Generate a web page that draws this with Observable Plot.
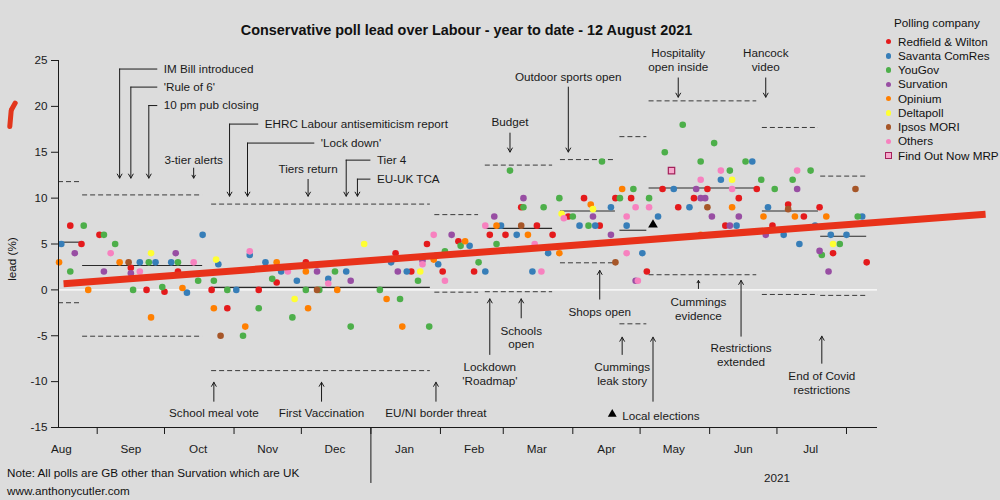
<!DOCTYPE html>
<html><head><meta charset="utf-8">
<script src="https://cdn.jsdelivr.net/npm/d3@7"></script>
<script src="https://cdn.jsdelivr.net/npm/@observablehq/plot@0.6"></script>
<style>
body{margin:0;background:#dcdcdc;}
#wrap{position:relative;width:1000px;height:500px;background:#dcdcdc;font-family:"Liberation Sans",Arial,sans-serif;color:#111;overflow:hidden}
#chart{position:absolute;left:0;top:0}
.t{position:absolute;white-space:nowrap;font-size:11.7px;line-height:14px}
</style></head><body>
<div id="wrap"><div id="chart"></div></div>
<script>
// ---------- data ----------
const companies = ["Redfield & Wilton","Savanta ComRes","YouGov","Survation","Opinium","Deltapoll","Ipsos MORI","Others","Find Out Now MRP"];
const colors = ["#e41a1c","#377eb8","#4daf4a","#984ea3","#ff7f00","#ffff33","#a65628","#f781bf","#f7a8cc"];

const redfieldWilton = [["2020-08-20",7],["2020-08-25",5],["2020-09-02",6],["2020-09-16",2.4],["2020-09-23",0],["2020-10-01",-0.2],["2020-10-07",2],["2020-10-22",0],["2020-10-29",-2],["2020-11-12",0],["2020-11-20",0.8],["2020-12-03",3],["2021-01-12",4],["2021-01-19",2],["2021-01-26",5],["2021-02-02",2],["2021-02-09",5.3],["2021-02-16",2],["2021-02-23",6],["2021-03-02",6],["2021-03-09",9],["2021-03-16",7],["2021-03-23",6],["2021-03-30",8],["2021-04-06",10],["2021-04-13",7],["2021-04-20",10],["2021-04-27",10],["2021-05-04",2],["2021-05-11",11],["2021-05-18",9],["2021-05-25",10],["2021-05-31",11],["2021-06-08",7],["2021-06-14",10],["2021-06-22",11],["2021-06-29",7],["2021-07-06",9.3],["2021-07-13",8],["2021-07-20",9],["2021-07-26",4],["2021-08-10",3]];
const savantaComRes = [["2020-08-16",5],["2020-09-20",3],["2020-09-27",3],["2020-10-04",3],["2020-10-11",-0.3],["2020-10-18",6],["2020-10-25",2.8],["2020-11-02",0],["2020-11-08",3.8],["2020-11-15",3],["2020-11-22",2],["2020-11-29",1],["2020-12-13",1.2],["2020-12-21",2],["2021-01-10",3],["2021-01-17",2],["2021-01-31",2.8],["2021-02-14",4.8],["2021-02-21",2],["2021-02-28",7],["2021-03-07",6],["2021-03-14",2],["2021-03-21",4],["2021-04-04",7],["2021-04-11",7],["2021-04-18",9],["2021-04-25",7],["2021-05-02",4],["2021-05-09",8],["2021-05-16",11],["2021-05-23",9],["2021-06-06",12],["2021-06-13",7],["2021-06-20",14],["2021-06-27",9],["2021-07-04",6],["2021-07-11",5],["2021-07-18",7],["2021-07-25",6],["2021-08-01",6],["2021-08-08",8]];
const youGov = [["2020-08-20",2],["2020-08-26",7],["2020-09-04",6],["2020-09-09",5],["2020-09-17",0],["2020-09-24",3],["2020-09-30",0.3],["2020-10-07",3],["2020-10-16",1],["2020-10-23",1],["2020-10-29",0],["2020-11-05",-5],["2020-11-12",-2],["2020-11-18",1.2],["2020-11-27",-3],["2020-12-03",0],["2020-12-09",0],["2020-12-16",2],["2020-12-23",-4],["2021-01-05",0],["2021-01-14",-1],["2021-01-22",1],["2021-01-27",-4],["2021-02-03",4.2],["2021-02-10",4.8],["2021-02-18",3],["2021-02-26",5],["2021-03-04",13],["2021-03-10",9],["2021-03-19",9],["2021-03-26",10],["2021-04-01",8],["2021-04-08",7],["2021-04-14",14],["2021-04-22",10],["2021-04-28",11],["2021-05-05",10],["2021-05-12",15],["2021-05-20",18],["2021-05-28",14],["2021-06-03",16],["2021-06-10",13],["2021-06-17",14],["2021-06-24",12],["2021-06-30",11],["2021-07-08",12],["2021-07-16",13],["2021-07-21",3.8],["2021-07-29",5],["2021-08-06",8]];
const survation = [["2020-08-22",4],["2020-09-04",2],["2020-09-16",1.8],["2020-10-06",4],["2020-12-08",2],["2020-12-23",1],["2021-01-13",2],["2021-01-24",3.2],["2021-02-06",6],["2021-02-25",8],["2021-03-10",10],["2021-04-10",8],["2021-04-18",6],["2021-04-29",1],["2021-05-26",11],["2021-05-28",10],["2021-05-30",10],["2021-06-02",8],["2021-06-10",7],["2021-06-14",8],["2021-06-26",6],["2021-07-10",11],["2021-07-20",4.25],["2021-07-24",2]];
const opinium = [["2020-08-15",3],["2020-08-28",0],["2020-09-11",3],["2020-09-25",-3],["2020-10-09",0.2],["2020-10-23",-2],["2020-11-06",-4],["2020-11-20",3],["2020-12-03",2],["2020-12-04",-2],["2020-12-17",0],["2021-01-08",-1],["2021-01-15",-4],["2021-01-29",3.3],["2021-02-12",5.3],["2021-02-26",7],["2021-03-12",6],["2021-03-26",4],["2021-04-09",9.3],["2021-04-23",11],["2021-05-28",6],["2021-06-11",9],["2021-06-25",8],["2021-07-09",8],["2021-07-23",8]];
const deltapoll = [["2020-09-25",4],["2020-10-24",3.3],["2020-11-28",-1],["2020-12-29",5],["2021-01-23",2],["2021-03-27",8.3],["2021-04-10",8.8],["2021-06-11",12],["2021-07-26",5]];
const ipsosMori = [["2020-09-15",3],["2020-10-26",-5],["2020-12-08",0],["2021-03-09",7],["2021-04-20",3],["2021-05-31",9],["2021-07-06",8.8],["2021-08-05",11]];
const others = [["2020-09-07",4],["2020-09-20",2],["2020-10-14",3],["2020-11-08",4.2],["2020-11-25",2],["2020-12-13",0.7],["2021-01-24",2.8],["2021-01-29",6],["2021-02-03",1],["2021-02-21",7],["2021-03-15",5],["2021-03-18",2],["2021-03-28",7.8],["2021-04-25",8],["2021-04-25",4],["2021-04-29",9],["2021-04-30",1],["2021-05-05",9],["2021-05-28",12],["2021-06-06",13],["2021-06-11",11],["2021-07-10",13]];
const findOutNowMRP = [["2021-05-15",13]];
const localElectionsPoint = [["2021-05-06T18:00",7.1]];
const trendLine = [["2020-08-17",0.68],["2021-10-02",8.25]];

const periodStart = ["2020-08-14T18:00","2020-08-25T12:00","2020-10-22","2021-01-29T12:00","2021-02-21","2021-03-26T12:00","2021-04-22","2021-05-05","2021-06-24T12:00","2021-07-20T12:00"];
const periodEnd   = ["2020-08-25T06:00","2020-10-18","2021-01-27T12:00","2021-02-18","2021-03-23","2021-04-20","2021-05-04","2021-06-22","2021-07-19T12:00","2021-08-10"];
const periodMean  = [5.2,2.65,0.27,4.0,6.7,8.6,6.5,11.1,8.6,5.85];
const periodUpper = [11.8,10.35,9.35,8.2,13.6,14.2,16.7,20.6,17.7,12.4];
const periodLower = [-1.4,-5.05,-8.8,-0.25,-0.2,2.95,-3.7,1.65,-0.5,-0.6];

const yTicks = [-15,-10,-5,0,5,10,15,20,25];
const monthTicks = ["2020-09-01","2020-10-01","2020-11-01","2020-12-01","2021-01-01","2021-02-01","2021-03-01","2021-04-01","2021-05-01","2021-06-01","2021-07-01","2021-08-01"];
const monthLabels = ["Aug","Sep","Oct","Nov","Dec","Jan","Feb","Mar","Apr","May","Jun","Jul"];
const monthLabelDates = ["2020-08-16","2020-09-16","2020-10-16","2020-11-16","2020-12-16","2021-01-16","2021-02-16","2021-03-16","2021-04-16","2021-05-16","2021-06-16","2021-07-16"];
const yearLabel = [["2021-07-01","2021"]];
const yearDivider = ["2021-01-01"];
const xDomain = ["2020-08-14T18:00","2021-08-14T19:40"];

// annotations: [label, arrow date, elbow date, text y, arrow tip y]
const elbowNotes = [
  ["IM Bill introduced","2020-09-11","2020-09-28",24.07,12.18],
  ["'Rule of 6'","2020-09-16","2020-09-28",22.1,12.18],
  ["10 pm pub closing","2020-09-24","2020-09-28",20.09,12.18],
  ["EHRC Labour antisemiticism report","2020-10-30","2020-11-12",18.07,10.21],
  ["'Lock down'","2020-11-07","2020-12-07",16.0,10.21],
  ["Tier 4","2020-12-21","2021-01-01",14.14,10.21],
  ["EU-UK TCA","2020-12-26","2021-01-01",12.07,10.21]
];
// [label, date, text y, arrow from, arrow to]
const downNotes = [
  ["3-tier alerts","2020-10-14",14.25,13.27,12.18],
  ["Tiers return","2020-12-04",13.27,12.04,10.21],
  ["Budget","2021-03-04",18.29,17.09,15.02],
  ["Outdoor sports open","2021-03-30",23.23,22.1,15.02],
  ["Hospitality\nopen inside","2021-05-18",25.07,23.1,21.0],
  ["Hancock\nvideo","2021-06-26",25.07,23.1,21.0]
];
const upNotes = [
  ["School meal vote","2020-10-23",-13.41,-12.14,-10.07],
  ["First Vaccination","2020-12-10",-13.41,-12.14,-10.07],
  ["EU/NI border threat","2021-01-30",-13.41,-12.14,-10.07],
  ["Lockdown\n'Roadmap'","2021-02-23",-9.14,-7.04,-0.98],
  ["Schools\nopen","2021-03-09",-5.14,-3.05,-0.98],
  ["Shops open","2021-04-13",-2.4,-1.01,2.12],
  ["Cummings\nleak story","2021-04-23",-9.14,-7.04,-5.16],
  ["","2021-05-06T18:00",-13.5,-12.14,-5.16],
  ["Cummings\nevidence","2021-05-27",-2.05,0.15,1.03],
  ["Restrictions\nextended","2021-06-15",-7.09,-5.05,1.03],
  ["End of Covid\nrestrictions","2021-07-21",-10.08,-8.0,-5.05]
];
const localElectionsKey = [["2021-04-18T14:00","2021-04-23",-13.55,"Local elections"]];

// ---------- build ----------
const parse = s => new Date(s.length === 10 ? s + "T00:00:00Z" : s + ":00Z");
const seriesList = [
  [companies[0], redfieldWilton],[companies[1], savantaComRes],[companies[2], youGov],
  [companies[3], survation],[companies[4], opinium],[companies[5], deltapoll],
  [companies[6], ipsosMori],[companies[7], others]
];
const polls = [];
seriesList.forEach(([name, arr]) => arr.forEach(([d, v]) => polls.push({date: parse(d), lead: v, company: name})));
const mrp = findOutNowMRP.map(([d, v]) => ({date: parse(d), lead: v}));
const tri = localElectionsPoint.map(([d, v]) => ({date: parse(d), lead: v}));
const trend = trendLine.map(([d, v]) => ({date: parse(d), lead: v}));
const periods = periodStart.map((s, i) => ({start: parse(s), end: parse(periodEnd[i]), mean: periodMean[i], upper: periodUpper[i], lower: periodLower[i]}));
const dom = xDomain.map(parse);
const ink = "#1a1a1a";

const plot = Plot.plot({
  width: 1000, height: 500,
  marginLeft: 58, marginRight: 123, marginTop: 60, marginBottom: 73,
  style: {background: "transparent", fontFamily: "'Liberation Sans', Arial, sans-serif", fontSize: "11.7px", color: ink, overflow: "visible"},
  x: {type: "utc", domain: dom},
  y: {domain: [-15, 25]},
  color: {type: "ordinal", domain: companies, range: colors},
  marks: [
    Plot.ruleY([0], {x1: dom[0], x2: dom[1], stroke: "white", strokeWidth: 1.2}),
    Plot.ruleY(periods, {x1: "start", x2: "end", y: "upper", stroke: "#3a3a3a", strokeDasharray: "5,3"}),
    Plot.ruleY(periods, {x1: "start", x2: "end", y: "lower", stroke: "#3a3a3a", strokeDasharray: "5,3"}),
    Plot.ruleY(periods, {x1: "start", x2: "end", y: "mean", stroke: "#2a2a2a", strokeWidth: 1.1}),
    Plot.dot(polls, {x: "date", y: "lead", fill: "company", r: 3.3}),
    Plot.dot(mrp, {x: "date", y: "lead", symbol: "square", fill: colors[8], stroke: "#a3205a", strokeWidth: 1.2, r: 3.6}),
    Plot.dot(tri, {x: "date", y: "lead", symbol: "triangle", fill: "black", r: 3.6}),
    Plot.line(trend, {x: "date", y: "lead", stroke: "#e8321a", strokeWidth: 7, strokeLinecap: "butt"}),
    // axes
    Plot.ruleX([dom[0]], {y1: -15, y2: 25, stroke: ink}),
    Plot.ruleY([-15], {x1: dom[0], x2: dom[1], stroke: ink}),
    Plot.axisY({ticks: yTicks, tickSize: 7, tickPadding: 4, tickFormat: d => String(d), label: null}),
    Plot.axisX({ticks: monthTicks.map(parse), tickSize: 7, tickFormat: () => "", label: null}),
    Plot.ruleX(yearDivider.map(parse), {y1: -15, y2: -21.1, stroke: ink}),
    Plot.text(monthLabels, {x: (d, i) => parse(monthLabelDates[i]), y: () => -15, dy: 22, text: d => d, fill: ink}),
    Plot.text(yearLabel, {x: d => parse(d[0]), y: () => -15, dy: 51, text: d => d[1], fill: ink}),
    // annotations
    Plot.ruleY(elbowNotes, {x1: d => parse(d[1]), x2: d => parse(d[2]), y: d => d[3], stroke: ink}),
    Plot.arrow(elbowNotes, {x1: d => parse(d[1]), x2: d => parse(d[1]), y1: d => d[3], y2: d => d[4], stroke: ink, headLength: 7, strokeWidth: 1}),
    Plot.text(elbowNotes, {x: d => parse(d[2]), y: d => d[3], text: d => d[0], textAnchor: "start", dx: 6, fill: ink}),
    Plot.arrow(downNotes, {x1: d => parse(d[1]), x2: d => parse(d[1]), y1: d => d[3], y2: d => d[4], stroke: ink, headLength: 7, strokeWidth: 1}),
    Plot.text(downNotes, {x: d => parse(d[1]), y: d => d[2], text: d => d[0], lineHeight: 1.17, fill: ink}),
    Plot.arrow(upNotes, {x1: d => parse(d[1]), x2: d => parse(d[1]), y1: d => d[3], y2: d => d[4], stroke: ink, headLength: 7, strokeWidth: 1}),
    Plot.text(upNotes, {x: d => parse(d[1]), y: d => d[2], text: d => d[0], lineHeight: 1.17, fill: ink}),
    Plot.dot(localElectionsKey, {x: d => parse(d[0]), y: d => d[2], symbol: "triangle", fill: "black", r: 3.3}),
    Plot.text(localElectionsKey, {x: d => parse(d[1]), y: d => d[2] - 0.19, text: d => d[3], textAnchor: "start", fill: ink})
  ]
});
document.getElementById("chart").appendChild(plot);

// ---------- HTML text: title, legend, notes ----------
const wrap = document.getElementById("wrap");
function addDiv(html, css) {
  const el = document.createElement("div");
  el.className = "t";
  el.innerHTML = html;
  Object.assign(el.style, css);
  wrap.appendChild(el);
  return el;
}
const titleText = "Conservative poll lead over Labour - year to date - 12 August 2021";
addDiv(titleText, {left: "0px", width: "933px", textAlign: "center", top: "21px", fontSize: "14.4px", fontWeight: "bold", lineHeight: "18px"});
addDiv("lead (%)", {left: "12px", top: "259px", transform: "translate(-50%,-50%) rotate(-90deg)"});
const noteText = "Note: All polls are GB other than Survation which are UK";
const siteText = "www.anthonycutler.com";
addDiv(noteText, {left: "7px", top: "466px"});
addDiv(siteText, {left: "7px", top: "484px"});

const legendTitle = "Polling company";
addDiv(legendTitle, {left: "894px", top: "16px"});
companies.forEach((c, i) => {
  const top = 41.7 + i * 14.25;
  const isSq = i === companies.length - 1;
  const sz = isSq ? 5 : 5.6;
  const mk = document.createElement("div");
  Object.assign(mk.style, {position: "absolute", left: (888.3 - sz / 2 - (isSq ? 1.2 : 0)) + "px", top: (top - sz / 2 - (isSq ? 1.2 : 0)) + "px",
    width: sz + "px", height: sz + "px", background: colors[i],
    borderRadius: isSq ? "0" : "50%", border: isSq ? "1.2px solid #a3205a" : "none"});
  wrap.appendChild(mk);
  addDiv(c.replace("&", "&amp;"), {left: "898px", top: (top - 7) + "px"});
});

// small red hand-drawn mark in the left margin
const markLow = document.createElement("div");
Object.assign(markLow.style, {position: "absolute", left: "8px", top: "108px", width: "4.5px", height: "21px", background: "#e2361c", borderRadius: "2.5px", transform: "rotate(5deg)"});
wrap.appendChild(markLow);
const markTop = document.createElement("div");
Object.assign(markTop.style, {position: "absolute", left: "11px", top: "100px", width: "4.5px", height: "12px", background: "#e2361c", borderRadius: "2.5px", transform: "rotate(30deg)"});
wrap.appendChild(markTop);
</script>
</body></html>
